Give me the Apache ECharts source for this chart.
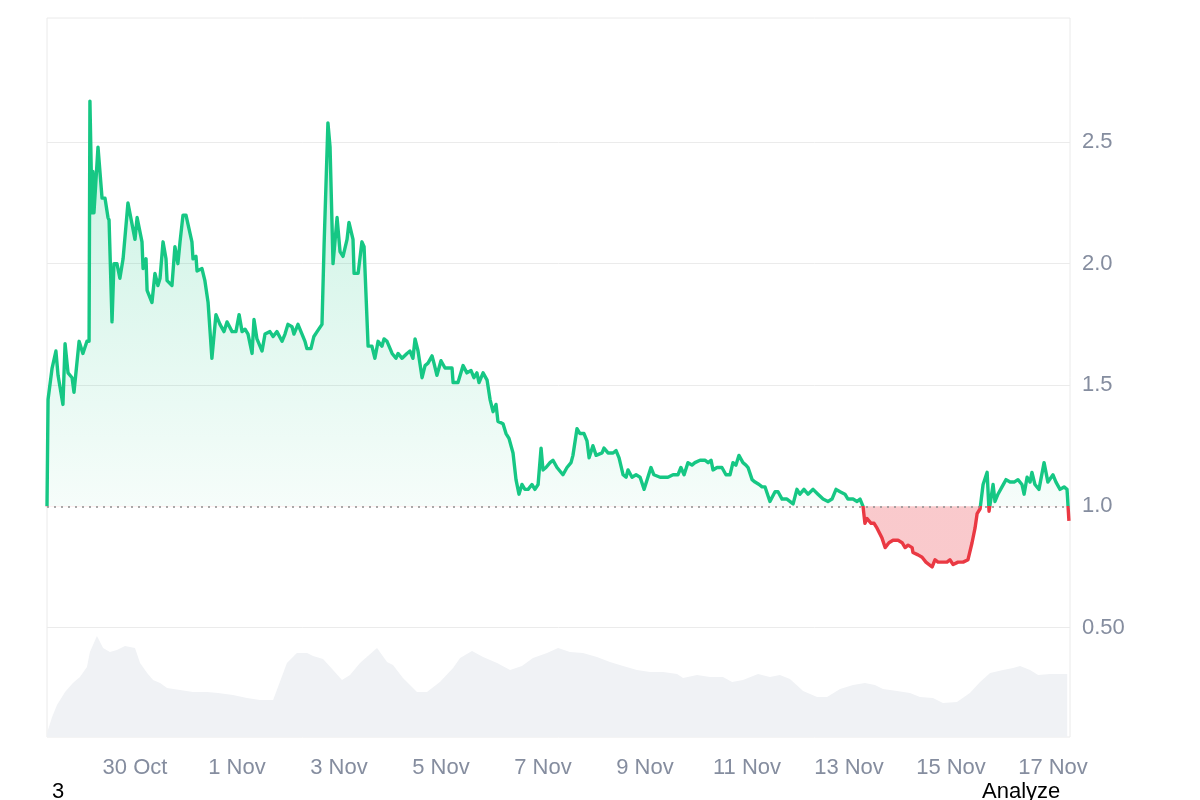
<!DOCTYPE html>
<html>
<head>
    <meta charset="utf-8">
    <script src="https://cdn.jsdelivr.net/npm/echarts@6/dist/echarts.min.js"></script>
    <style>
        html, body { margin: 0; padding: 0; background: #fff; }
        #container { width: 1200px; height: 800px; }
    </style>
</head>
<body>
<div id="container"></div>
<script>
    // hours counted from 28 Oct 00:00
    const tickHours = [48, 96, 144, 192, 240, 288, 336, 384, 432, 480];
    const tickLabels = ['30 Oct', '1 Nov', '3 Nov', '5 Nov', '7 Nov', '9 Nov', '11 Nov', '13 Nov', '15 Nov', '17 Nov'];
    const yTicks = [0.5, 1, 1.5, 2, 2.5];
    const yTickLabels = ['0.50', '1.0', '1.5', '2.0', '2.5'];
    const baseline = 1.0;

    // [hour, price]
    const price = [
        [6.6, 1.00], [7.1, 1.44], [9.0, 1.57], [10.8, 1.64], [11.8, 1.54], [14.1, 1.42], [15.1, 1.67], [16.5, 1.55],
        [18.4, 1.53], [19.3, 1.47], [21.7, 1.68], [23.5, 1.63], [25.4, 1.68], [26.4, 1.68], [26.8, 2.67], [27.8, 2.21],
        [28.2, 2.38], [28.7, 2.21], [30.6, 2.48], [32.5, 2.27], [33.9, 2.27], [35.3, 2.19], [35.8, 2.18], [37.2, 1.76],
        [38.1, 2.00], [39.5, 2.00], [40.9, 1.94], [42.4, 2.02], [44.7, 2.25], [48.0, 2.10], [49.0, 2.19], [51.3, 2.09],
        [51.8, 1.98], [53.2, 2.02], [53.7, 1.89], [56.0, 1.84], [57.4, 1.96], [58.8, 1.91], [59.8, 1.94], [61.2, 2.09],
        [62.6, 2.02], [63.1, 1.93], [65.4, 1.91], [66.8, 2.07], [68.2, 2.00], [69.2, 2.09], [70.6, 2.20], [72.0, 2.20],
        [74.8, 2.09], [75.3, 2.02], [76.7, 2.03], [77.2, 1.97], [79.5, 1.98], [80.9, 1.93], [82.4, 1.84], [84.2, 1.61],
        [86.1, 1.79], [88.0, 1.75], [89.9, 1.72], [91.3, 1.76], [93.7, 1.72], [95.5, 1.72], [97.0, 1.79], [98.4, 1.72],
        [99.8, 1.73], [101.2, 1.71], [103.1, 1.63], [104.0, 1.77], [105.4, 1.69], [107.8, 1.64], [109.2, 1.71], [111.5, 1.72],
        [113.0, 1.70], [114.8, 1.72], [117.2, 1.68], [118.6, 1.71], [120.0, 1.75], [121.9, 1.74], [122.8, 1.71], [124.7, 1.75],
        [126.6, 1.71], [128.0, 1.68], [128.9, 1.65], [130.8, 1.65], [132.2, 1.70], [133.7, 1.72], [136.0, 1.75], [137.0, 2.08],
        [138.8, 2.58], [139.8, 2.48], [141.2, 2.00], [143.1, 2.19], [144.5, 2.05], [145.9, 2.03], [147.8, 2.10], [148.7, 2.17],
        [150.6, 2.10], [151.1, 1.96], [153.0, 1.96], [154.8, 2.09], [155.8, 2.07], [157.7, 1.66], [159.5, 1.66], [160.9, 1.61],
        [162.4, 1.68], [164.2, 1.66], [165.2, 1.69], [166.6, 1.68], [169.0, 1.63], [170.8, 1.61], [171.8, 1.63], [173.7, 1.61],
        [176.0, 1.63], [177.4, 1.64], [178.8, 1.61], [179.8, 1.69], [181.2, 1.64], [183.1, 1.53], [184.5, 1.58], [185.9, 1.59],
        [187.8, 1.62], [188.7, 1.59], [190.1, 1.54], [192.0, 1.60], [193.9, 1.57], [195.8, 1.57], [197.2, 1.57], [197.7, 1.51],
        [200.0, 1.51], [202.4, 1.58], [204.2, 1.55], [206.1, 1.56], [207.5, 1.53], [208.9, 1.55], [209.9, 1.51], [211.8, 1.55],
        [212.7, 1.55], [213.7, 1.52], [215.1, 1.44], [216.5, 1.39], [217.9, 1.42], [218.8, 1.35], [221.2, 1.34], [222.6, 1.30],
        [224.0, 1.28], [225.9, 1.22], [227.3, 1.11], [228.7, 1.05], [230.1, 1.09], [231.5, 1.07], [233.0, 1.07], [234.8, 1.09],
        [236.2, 1.07], [237.7, 1.09], [239.1, 1.24], [240.0, 1.15], [241.4, 1.16], [243.3, 1.18], [244.7, 1.19], [246.6, 1.16],
        [249.4, 1.13], [251.3, 1.16], [253.2, 1.18], [254.1, 1.21], [256.0, 1.32], [257.4, 1.30], [259.3, 1.30], [260.7, 1.27],
        [261.7, 1.20], [263.5, 1.25], [265.0, 1.21], [267.8, 1.22], [268.7, 1.24], [270.6, 1.22], [273.0, 1.22], [274.4, 1.23],
        [275.8, 1.20], [277.7, 1.13], [279.1, 1.12], [280.0, 1.15], [281.9, 1.12], [283.8, 1.13], [285.7, 1.12], [287.6, 1.07],
        [289.0, 1.11], [290.8, 1.16], [292.2, 1.13], [295.1, 1.12], [297.4, 1.12], [298.8, 1.12], [301.2, 1.13], [303.5, 1.13],
        [304.9, 1.16], [306.4, 1.13], [308.2, 1.18], [310.1, 1.17], [311.5, 1.18], [313.9, 1.19], [316.2, 1.19], [317.7, 1.18],
        [319.1, 1.19], [320.0, 1.15], [321.9, 1.16], [324.2, 1.16], [326.1, 1.13], [328.0, 1.13], [329.4, 1.18], [330.8, 1.17],
        [332.2, 1.21], [334.1, 1.18], [335.5, 1.17], [336.5, 1.16], [338.4, 1.11], [339.8, 1.10], [341.7, 1.09], [343.1, 1.08],
        [344.5, 1.08], [346.8, 1.02], [349.2, 1.06], [350.6, 1.06], [352.5, 1.03], [354.8, 1.03], [357.7, 1.01], [359.5, 1.07],
        [360.9, 1.05], [362.8, 1.07], [364.7, 1.05], [367.1, 1.07], [369.4, 1.05], [371.8, 1.03], [374.1, 1.02], [376.0, 1.03],
        [377.9, 1.07], [379.8, 1.06], [382.1, 1.05], [383.5, 1.03], [385.9, 1.03], [387.8, 1.02], [389.2, 1.03], [390.6, 1.00],
        [391.5, 0.93], [392.5, 0.95], [394.4, 0.93], [395.8, 0.93], [397.2, 0.91], [399.5, 0.87], [401.0, 0.83], [402.8, 0.85],
        [404.7, 0.86], [407.1, 0.86], [409.0, 0.85], [410.4, 0.83], [411.8, 0.84], [413.7, 0.83], [414.1, 0.81], [416.5, 0.80],
        [418.4, 0.79], [420.2, 0.77], [423.1, 0.75], [424.5, 0.78], [425.9, 0.77], [428.2, 0.77], [430.1, 0.77], [431.5, 0.78],
        [433.0, 0.76], [435.3, 0.77], [437.7, 0.77], [440.0, 0.78], [441.9, 0.85], [443.3, 0.91], [444.3, 0.97], [445.7, 0.99],
        [447.1, 1.09], [449.0, 1.14], [449.9, 0.98], [451.8, 1.09], [452.7, 1.02], [454.1, 1.05], [456.0, 1.08], [457.9, 1.11],
        [459.8, 1.10], [461.7, 1.10], [463.5, 1.11], [465.4, 1.09], [466.4, 1.05], [467.8, 1.12], [469.2, 1.10], [470.1, 1.14],
        [471.5, 1.09], [473.4, 1.07], [475.8, 1.18], [477.6, 1.10], [480.0, 1.13], [481.4, 1.10], [483.3, 1.07], [485.2, 1.08],
        [486.6, 1.07], [487.5, 0.94]
    ];

    // [hour, volume] - volume shown in the strip at the bottom
    const volume = [
        [6.6, 0.4], [9.0, 2.0], [11.3, 3.2], [15.1, 4.5], [18.8, 5.4], [22.1, 6.0], [25.4, 7.0], [26.8, 8.5],
        [30.1, 10.1], [33.0, 8.9], [36.2, 8.5], [39.5, 8.7], [43.3, 9.1], [48.0, 8.9], [50.4, 7.4], [53.7, 6.4],
        [56.5, 5.7], [59.8, 5.4], [63.1, 4.9], [69.2, 4.7], [75.3, 4.5], [81.9, 4.5], [87.1, 4.4], [94.1, 4.2],
        [100.7, 3.9], [106.8, 3.7], [113.0, 3.7], [115.3, 5.0], [119.5, 7.4], [124.2, 8.4], [129.0, 8.4], [131.8, 8.1],
        [136.5, 7.8], [141.2, 6.7], [145.4, 5.7], [149.2, 6.2], [153.9, 7.4], [161.9, 8.9], [166.6, 7.5], [169.4, 7.2],
        [174.1, 5.9], [180.7, 4.5], [185.4, 4.5], [191.5, 5.5], [197.7, 6.9], [201.0, 7.9], [206.6, 8.6], [211.8, 8.0],
        [218.4, 7.4], [224.5, 6.7], [230.1, 7.1], [235.3, 7.9], [241.9, 8.4], [247.1, 8.9], [252.7, 8.5], [258.8, 8.4],
        [265.4, 8.0], [271.5, 7.5], [277.7, 7.1], [284.2, 6.7], [290.4, 6.5], [296.5, 6.5], [303.1, 6.3], [305.9, 5.9],
        [312.5, 6.2], [318.6, 6.0], [324.7, 6.0], [329.0, 5.5], [334.1, 5.7], [341.2, 6.3], [346.8, 6.0], [351.5, 6.2],
        [356.2, 5.8], [362.4, 4.6], [369.0, 4.0], [373.7, 4.0], [379.8, 4.8], [385.9, 5.2], [391.5, 5.4], [396.2, 5.2],
        [400.0, 4.8], [406.6, 4.6], [412.7, 4.4], [417.4, 4.0], [423.5, 3.9], [428.2, 3.4], [434.8, 3.5], [440.9, 4.4],
        [445.7, 5.5], [450.4, 6.4], [456.5, 6.7], [461.2, 6.9], [464.5, 7.1], [469.2, 6.7], [473.0, 6.2], [478.6, 6.3],
        [484.7, 6.3], [486.7, 6.3]
    ];

    const startHour = 6.6;
    const endHour = 488;
    const green = '#16c784';
    const red = '#ea3943';
    const labelColor = '#858d9f';
    const fontFamily = '"Liberation Sans", Arial, Helvetica, sans-serif';

    // gradient stop where the baseline sits inside the filled shape
    let pMax = Math.max.apply(null, price.map(p => p[1]));
    let pMin = Math.min.apply(null, price.map(p => p[1]));
    let cut = (pMax - baseline) / (pMax - pMin);

    let dom = document.getElementById('container');
    let myChart = echarts.init(dom, null, {renderer: 'canvas'});
    let option = {
        animation: false,
        backgroundColor: '#fff',
        grid: [
            {left: 47, right: 130, top: 21, bottom: 51},
            {left: 47, right: 130, top: 18, bottom: 63, show: true, borderColor: '#eaeaea', borderWidth: 1}
        ],
        xAxis: [
            {type: 'value', gridIndex: 0, min: startHour, max: endHour, show: false},
            {
                type: 'value', gridIndex: 1, min: startHour, max: endHour,
                axisLine: {show: false}, axisTick: {show: false}, splitLine: {show: false},
                axisLabel: {
                    customValues: tickHours,
                    margin: 20,
                    color: labelColor,
                    fontSize: 22,
                    fontFamily: fontFamily,
                    formatter: function (v) {
                        let i = tickHours.indexOf(v);
                        return i >= 0 ? tickLabels[i] : '';
                    }
                }
            }
        ],
        yAxis: [
            {
                type: 'value', gridIndex: 0, position: 'right',
                min: 0, max: 3, interval: 0.5,
                axisLine: {show: false}, axisTick: {show: false},
                splitLine: {
                    lineStyle: {
                        color: ['rgba(0,0,0,0)', '#ebebeb', 'rgba(0,0,0,0)', '#ebebeb', '#ebebeb', '#ebebeb', 'rgba(0,0,0,0)'],
                        width: 1
                    }
                },
                axisLabel: {
                    margin: 12,
                    color: labelColor,
                    fontSize: 22,
                    fontFamily: fontFamily,
                    formatter: function (v) {
                        let i = yTicks.indexOf(v);
                        return i >= 0 ? yTickLabels[i] : '';
                    }
                }
            },
            {type: 'value', gridIndex: 1, min: 0, max: 71.9, show: false}
        ],
        visualMap: {
            type: 'piecewise',
            show: false,
            seriesIndex: 1,
            dimension: 1,
            pieces: [
                {gt: baseline, lte: 3, color: green},
                {gte: 0, lte: baseline, color: red}
            ],
            outOfRange: {color: green}
        },
        series: [
            {
                name: 'volume',
                type: 'line',
                xAxisIndex: 1,
                yAxisIndex: 1,
                data: volume,
                symbol: 'none',
                lineStyle: {width: 0},
                itemStyle: {color: '#f0f2f5'},
                areaStyle: {color: '#f0f2f5', opacity: 1},
                z: 1
            },
            {
                name: 'price',
                type: 'line',
                xAxisIndex: 0,
                yAxisIndex: 0,
                data: price,
                symbol: 'none',
                lineStyle: {width: 3.4, join: 'round'},
                areaStyle: {
                    origin: baseline,
                    opacity: 1,
                    color: new echarts.graphic.LinearGradient(0, 0, 0, 1, [
                        {offset: 0, color: 'rgba(22,199,132,0.24)'},
                        {offset: cut, color: 'rgba(22,199,132,0.04)'},
                        {offset: cut, color: 'rgba(234,57,67,0.27)'},
                        {offset: 1, color: 'rgba(234,57,67,0.27)'}
                    ])
                },
                markLine: {
                    silent: true,
                    symbol: 'none',
                    label: {show: false},
                    lineStyle: {color: '#8f8f8f', type: [2, 5], width: 1.5},
                    data: [{yAxis: baseline}]
                },
                z: 3
            }
        ],
        graphic: [
            {type: 'text', left: 52, top: 781, style: {text: '3', fontSize: 22, fontFamily: fontFamily, fill: '#000'}},
            {type: 'text', left: 982, top: 781, style: {text: 'Analyze', fontSize: 22, fontFamily: fontFamily, fill: '#000'}}
        ]
    };
    myChart.setOption(option);
</script>
</body>
</html>
